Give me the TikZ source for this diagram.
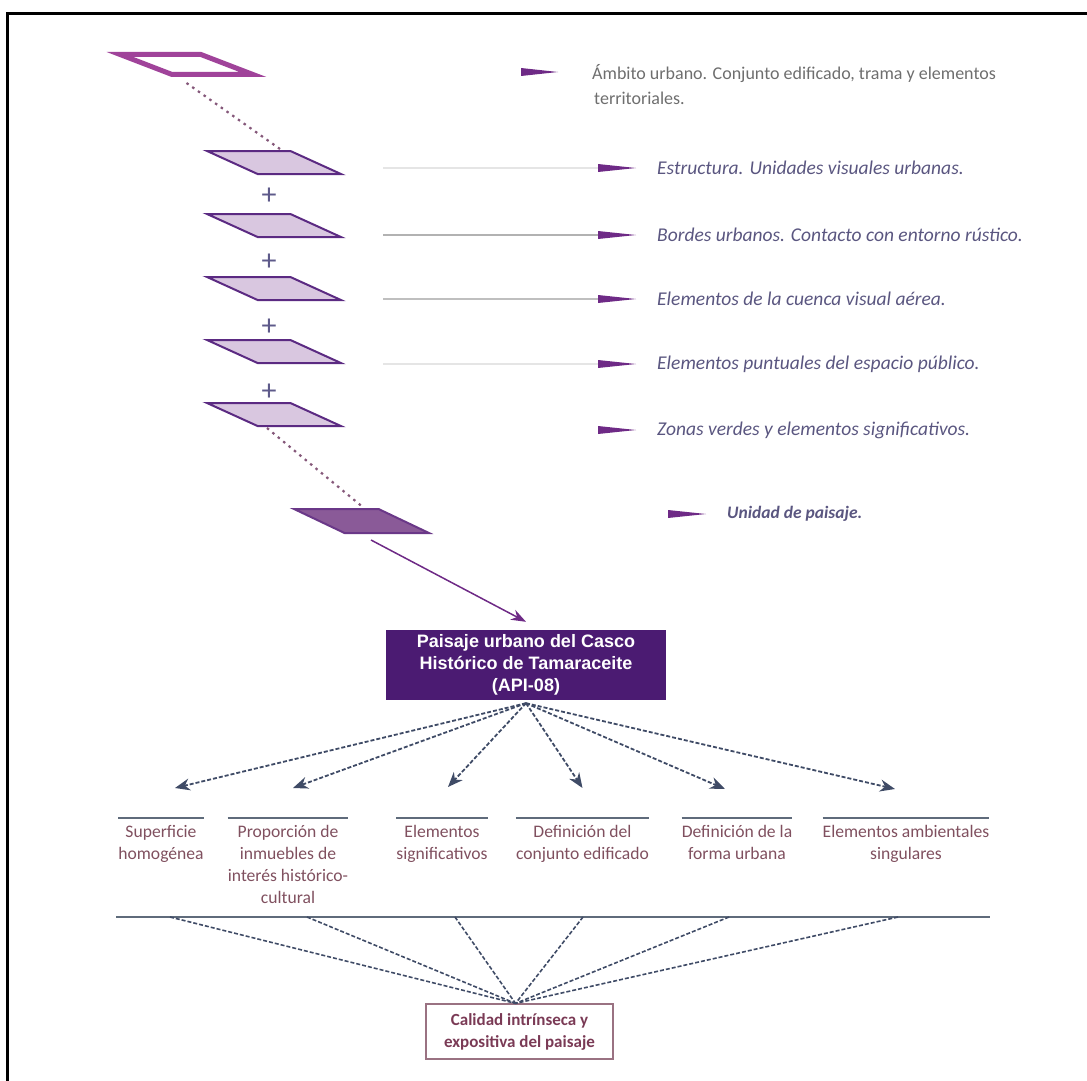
\documentclass[tikz,border=0pt]{standalone}
\usepackage{fontspec}
\setmainfont{Carlito}
\newfontfamily\headfont{Liberation Sans}
\usetikzlibrary{arrows.meta,shapes.geometric,positioning}

\definecolor{ambito}{HTML}{A0439A}
\definecolor{layfill}{HTML}{D9C7E0}
\definecolor{laydraw}{HTML}{5B2A82}
\definecolor{unidfill}{HTML}{8A5A98}
\definecolor{unidraw}{HTML}{6A3888}
\definecolor{mainbox}{HTML}{4B1B72}
\definecolor{flagcol}{HTML}{6E2A86}
\definecolor{plain}{HTML}{6E6E6E}
\definecolor{italtext}{HTML}{5A5680}
\definecolor{plus}{HTML}{5E5A8A}
\definecolor{dotcol}{HTML}{85587A}
\definecolor{slate}{HTML}{3F4B66}
\definecolor{rulecol}{HTML}{5F6B7B}
\definecolor{itemtext}{HTML}{80505F}
\definecolor{calidad}{HTML}{7A3A55}
\definecolor{calidraw}{HTML}{9A7282}

\begin{document}
\begin{tikzpicture}[x=1pt,y=-1pt,thin]
\tikzstyle{every node}=[inner sep=0pt]
\tikzstyle{ambit}=[trapezium, inner sep=2pt, trapezium stretches=true, trapezium left angle=151, trapezium right angle=29, minimum width=133pt, minimum height=20pt, draw=ambito, fill=white, line width=5pt]
\tikzstyle{lamina}=[trapezium, inner sep=2pt, trapezium stretches=true, trapezium left angle=147, trapezium right angle=33, minimum width=134pt, minimum height=23pt, draw=laydraw, fill=layfill, line width=2pt]
\tikzstyle{unid}=[lamina, fill=unidfill, draw=unidraw, trapezium left angle=146, trapezium right angle=34, minimum width=135pt, minimum height=24pt]
\tikzstyle{plussign}=[text=plus, font=\fontsize{30}{30}\selectfont]
\tikzstyle{dotline}=[draw=dotcol, line width=2.2pt, dash pattern=on 2.5pt off 4.5pt]
\tikzstyle{note}=[anchor=west, text=italtext, font=\fontsize{19.5}{24}\selectfont\itshape]
\tikzstyle{flag}=[fill=flagcol]
\tikzstyle{guide}=[draw=black!20, line width=1.2pt]
\tikzstyle{attr}=[anchor=north, inner ysep=7pt, align=center, text=itemtext, font=\fontsize{17.6}{22}\selectfont]
\tikzstyle{attrrule}=[draw=rulecol, line width=2.2pt]
\tikzstyle{fan}=[draw=slate, line width=1.8pt, dash pattern=on 4pt off 2pt, -{Stealth[length=15pt,width=12pt]}]
\tikzstyle{tieline}=[draw=slate, line width=1.6pt, dash pattern=on 4pt off 2pt]

% frame
\useasboundingbox (0,0) rectangle (1087,1081);
\draw[line width=3pt] (7,1081) -- (7,14) -- (1087,14);

% stack of layers
\node[ambit] (amb) at (186.5,64.5) {};
\node[lamina] (p1) at (274,162.5) {};
\node[lamina] (p2) [below=38pt of p1] {};
\node[lamina] (p3) [below=38pt of p2] {};
\node[lamina] (p4) [below=38pt of p3] {};
\node[lamina] (p5) [below=38pt of p4] {};
\node[unid]  (uni) at (361.5,521) {};

\node[plussign] (s1) at (269,196) {+};
\node[plussign] (s2) at (269,262) {+};
\node[plussign] (s3) at (269,327) {+};
\node[plussign] (s4) at (269,392) {+};

\draw[dotline] ([yshift=-6pt]amb.south) -- ([xshift=6pt,yshift=1pt]p1.north);
\draw[dotline] ([xshift=-7pt,yshift=-1pt]p5.south) -- ([yshift=2pt]uni.north);

% descriptions
\node[anchor=west, align=left, text=plain, font=\fontsize{18}{25}\selectfont] (tamb) at (592,84.5) {Ámbito urbano. Conjunto edificado, trama y elementos\\\hspace*{2pt}territoriales.};
\node[note] (t1) at (657,168) {Estructura. Unidades visuales urbanas.};
\node[note] (t2) at (657,235) {Bordes urbanos. Contacto con entorno rústico.};
\node[note] (t3) at (657,299) {Elementos de la cuenca visual aérea.};
\node[note] (t4) at (657,364) {Elementos puntuales del espacio público.};
\node[note] (t5) at (657,430) {Zonas verdes y elementos significativos.};
\node[note, font=\fontsize{17.5}{24}\selectfont\bfseries\itshape] (t6) at (727,514) {Unidad de paisaje.};

\fill[flag] ([xshift=-71pt,yshift=16.5pt]tamb.west) -- ++(37,4) -- ++(-37,4) -- cycle;
\fill[flag] ([xshift=-59pt,yshift=4pt]t1.west) -- ++(38,4) -- ++(-38,4) -- cycle;
\fill[flag] ([xshift=-59pt,yshift=4pt]t2.west) -- ++(38,4) -- ++(-38,4) -- cycle;
\fill[flag] ([xshift=-59pt,yshift=4pt]t3.west) -- ++(38,4) -- ++(-38,4) -- cycle;
\fill[flag] ([xshift=-59pt,yshift=4pt]t4.west) -- ++(38,4) -- ++(-38,4) -- cycle;
\fill[flag] ([xshift=-59pt,yshift=4pt]t5.west) -- ++(38,4) -- ++(-38,4) -- cycle;
\fill[flag] ([xshift=-59pt,yshift=4pt]t6.west) -- ++(38,4) -- ++(-38,4) -- cycle;

\coordinate (g1) at (383,168);
\coordinate (g2) at (383,235);
\coordinate (g3) at (383,299);
\coordinate (g4) at (383,364);
\draw[guide, draw=black!10] (g1) -- ([xshift=-59pt]t1.west);
\draw[guide, draw=black!30] (g2) -- ([xshift=-59pt]t2.west);
\draw[guide, draw=black!25] (g3) -- ([xshift=-59pt]t3.west);
\draw[guide, draw=black!10] (g4) -- ([xshift=-59pt]t4.west);

% landscape unit
\node[fill=mainbox, text=white, minimum width=280pt, minimum height=70pt, align=center, font=\headfont\bfseries\fontsize{18}{22}\selectfont] (main) at (526,665) {Paisaje urbano del Casco\\Histórico de Tamaraceite\\(API-08)};
\draw[draw=flagcol, line width=1.5pt, -{Stealth[length=15pt,width=11pt]}] ([xshift=9.5pt,yshift=-6pt]uni.south) -- ([yshift=8pt]main.north);

% attributes
\node[attr] (a1) at (161,818) {Superficie\\homogénea};
\node[attr] (a2) at (288,818) {Proporción de\\inmuebles de\\interés histórico-\\cultural};
\node[attr] (a3) at (442,818) {Elementos\\significativos};
\node[attr] (a4) at (582.5,818) {Definición del\\conjunto edificado};
\node[attr] (a5) at (737,818) {Definición de la\\forma urbana};
\node[attr] (a6) at (906,818) {Elementos ambientales\\singulares};

\draw[attrrule] (a1.north west) -- (a1.north east);
\draw[attrrule] (a2.north west) -- (a2.north east);
\draw[attrrule] (a3.north west) -- (a3.north east);
\draw[attrrule] (a4.north west) -- (a4.north east);
\draw[attrrule] (a5.north west) -- (a5.north east);
\draw[attrrule] (a6.north west) -- (a6.north east);

\draw[fan] ([yshift=-3pt]main.south) -- ([xshift=14pt,yshift=30pt]a1.north);
\draw[fan] ([yshift=-3pt]main.south) -- ([xshift=5pt,yshift=30pt]a2.north);
\draw[fan] ([yshift=-3pt]main.south) -- ([xshift=6pt,yshift=31pt]a3.north);
\draw[fan] ([yshift=-3pt]main.south) -- ([xshift=0pt,yshift=30pt]a4.north);
\draw[fan] ([yshift=-3pt]main.south) -- ([xshift=-12pt,yshift=29pt]a5.north);
\draw[fan] ([yshift=-3pt]main.south) -- ([xshift=-11pt,yshift=29pt]a6.north);

% quality
\coordinate (base0) at (116,917);
\coordinate (base7) at (990,917);
\coordinate (base1) at (170,917);
\coordinate (base2) at (307,917);
\coordinate (base3) at (455,917);
\coordinate (base4) at (583,917);
\coordinate (base5) at (729,917);
\coordinate (base6) at (898,917);
\draw[attrrule, line width=2.6pt] (base0) -- (base7);

\node[draw=calidraw, line width=1.2pt, minimum width=187pt, minimum height=55pt, align=center, text=calidad, font=\fontsize{17}{22}\selectfont\bfseries] (cal) at (519.5,1031.5) {Calidad intrínseca y\\expositiva del paisaje};

\draw[tieline] (base1) -- ([xshift=-4pt]cal.north);
\draw[tieline] (base2) -- ([xshift=-4pt]cal.north);
\draw[tieline] (base3) -- ([xshift=-4pt]cal.north);
\draw[tieline] (base4) -- ([xshift=-4pt]cal.north);
\draw[tieline] (base5) -- ([xshift=-4pt]cal.north);
\draw[tieline] (base6) -- ([xshift=-4pt]cal.north);
\end{tikzpicture}
\end{document}
